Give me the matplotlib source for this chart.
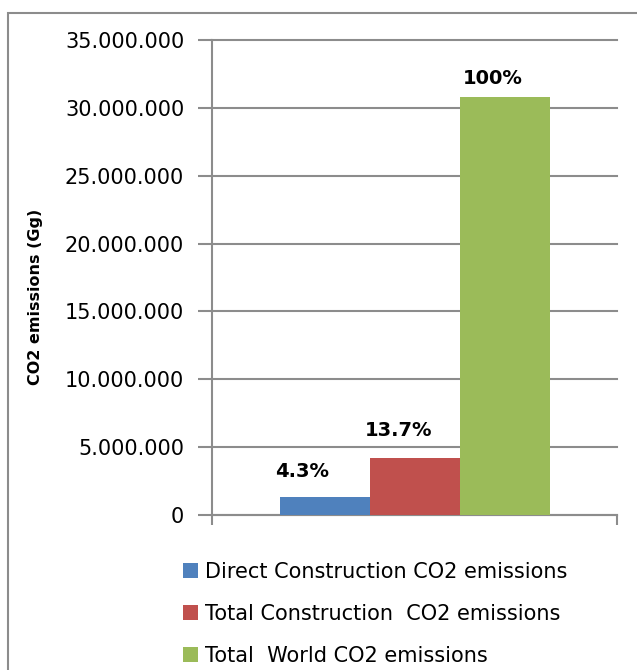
import matplotlib
matplotlib.use("Agg")
import matplotlib.pyplot as plt
from matplotlib.patches import Rectangle, Patch
from matplotlib.ticker import FuncFormatter, MultipleLocator

# Data
series = ["Direct Construction CO2 emissions",
          "Total Construction  CO2 emissions",
          "Total  World CO2 emissions"]
values = [1325000, 4220000, 30800000]
shares = ["4.3%", "13.7%", "100%"]
colors = ["#4F81BD", "#C0504D", "#9BBB59"]

# Data-label nudges (points) relative to the top centre of each bar
label_nudge = [(-16, 11.5), (-11.5, 13), (-8.5, 6.5)]

plt.rcParams["font.family"] = ["DejaVu Sans"]
grid_col = "#8C8C8C"

fig = plt.figure(figsize=(6.37, 6.70), dpi=100)

# Outer chart frame
fig.patches.append(Rectangle((8 / 637, -0.1), 1.2, (670 - 13) / 670 + 0.1,
                             transform=fig.transFigure, fill=False,
                             edgecolor="#8C8C8C", linewidth=1.5, zorder=0))

ax = fig.add_axes([212 / 637, (670 - 515) / 670, 405 / 637, 475 / 670])

w = 90 / 405
xs = [0.5 - w, 0.5, 0.5 + w]
for x, v, c, lab, s, nd in zip(xs, values, colors, series, shares, label_nudge):
    ax.bar(x, v, width=w, color=c, label=lab, zorder=3)
    ax.annotate(s, (x, v), xytext=nd, textcoords="offset points",
                ha="center", va="bottom", fontsize=14, fontweight="bold",
                color="black")

ax.set_xlim(0, 1)
ax.set_ylim(0, 35000000)
ax.yaxis.set_major_locator(MultipleLocator(5000000))
ax.yaxis.set_major_formatter(FuncFormatter(
    lambda v, p: "0" if v == 0 else f"{int(v):,}".replace(",", ".")))
ax.set_xticks([0, 1])
ax.set_xticklabels([])
ax.tick_params(axis="x", direction="out", length=7, width=1.5, color=grid_col)
ax.tick_params(axis="y", direction="out", length=10, width=1.5, color=grid_col,
               labelsize=15, pad=10)
ax.grid(axis="y", color=grid_col, linewidth=1.5, zorder=1)
for gl in ax.get_ygridlines():
    gl.set_clip_on(False)
for side in ("top", "right"):
    ax.spines[side].set_visible(False)
for side in ("left", "bottom"):
    ax.spines[side].set_color(grid_col)
    ax.spines[side].set_linewidth(1.5)

ax.set_ylabel("CO2 emissions (Gg)", fontsize=11.5, fontweight="bold")
ax.yaxis.set_label_coords(-0.417, 0.459)

handles = [Patch(facecolor=c, edgecolor="none") for c in colors]
fig.legend(handles, series, loc="upper left",
           bbox_to_anchor=(183 / 637, (670 - 562) / 670),
           frameon=False, fontsize=15, handlelength=0.7, handleheight=0.7,
           handletextpad=0.35, labelspacing=1.05, borderaxespad=0,
           borderpad=0)

fig.savefig("out.png", dpi=100)
